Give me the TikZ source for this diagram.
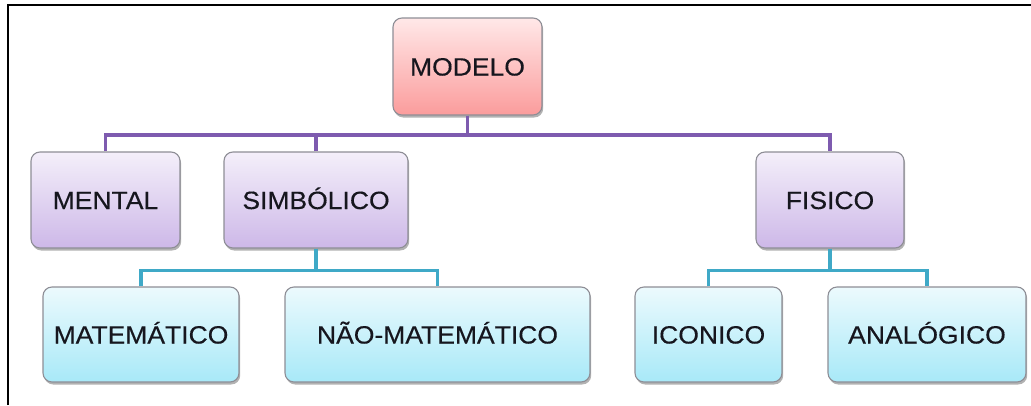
\documentclass[tikz,border=0pt]{standalone}
\usepackage{fontspec}
\setmainfont{Liberation Sans}[FakeStretch=1.06, FakeBold=0.35]
\usetikzlibrary{shadows}

\definecolor{pinktop}{HTML}{FFE8E8}
\definecolor{pinkbot}{HTML}{FB9C9C}
\definecolor{lilactop}{HTML}{F4EFFA}
\definecolor{lilacbot}{HTML}{CDB8E8}
\definecolor{cyantop}{HTML}{ECFAFD}
\definecolor{cyanbot}{HTML}{A8E9F8}
\definecolor{boxedge}{HTML}{8E8E96}
\definecolor{purpleline}{HTML}{7E5BAF}
\definecolor{cyanline}{HTML}{3FA9C7}
\definecolor{labeltext}{HTML}{16161E}

\begin{document}
\begin{tikzpicture}[x=1pt,y=-1pt,
  basebox/.style={draw=boxedge, line width=1.1pt, rounded corners=9pt,
    inner sep=0pt, text=labeltext, text height=18pt, text depth=0pt,
    font=\fontsize{25}{30}\selectfont,
    drop shadow={shadow xshift=1.2pt, shadow yshift=-2.5pt, opacity=0.3, fill=black}},
  rootbox/.style={basebox, top color=pinktop, bottom color=pinkbot},
  midbox/.style={basebox, top color=lilactop, bottom color=lilacbot},
  leafbox/.style={basebox, top color=cyantop, bottom color=cyanbot},
  upperlink/.style={draw=purpleline, line width=3.8pt},
  lowerlink/.style={draw=cyanline, line width=3.8pt}]

  % canvas and the frame along the top and left edges
  \useasboundingbox (0,0) rectangle (1031,405);
  \fill[white] (0,0) rectangle (1031,405);
  \draw[black, line width=2pt] (7.5,405) -- (7.5,4.5) -- (1031,4.5);

  % boxes
  \node[rootbox, minimum width=149pt, minimum height=97pt] (modelo) at (467.5,66.5) {MODELO};

  \node[midbox, minimum width=149pt, minimum height=96pt] (mental) at (105.5,200) {MENTAL};
  \node[midbox, minimum width=184pt, minimum height=96pt] (simbolico) at (316,200) {SIMBÓLICO};
  \node[midbox, minimum width=148pt, minimum height=96pt] (fisico) at (830,200) {FISICO};

  \node[leafbox, minimum width=196pt, minimum height=95pt] (matematico) at (141,334.5) {MATEMÁTICO};
  \node[leafbox, minimum width=305pt, minimum height=95pt] (naomatematico) at (437.5,334.5) {NÃO-MATEMÁTICO};
  \node[leafbox, minimum width=147pt, minimum height=95pt] (iconico) at (708.5,334.5) {ICONICO};
  \node[leafbox, minimum width=198pt, minimum height=95pt] (analogico) at (927,334.5) {ANALÓGICO};

  % bus levels of the connectors
  \coordinate (topbus) at (0,135);
  \coordinate (lowbus) at (0,270.5);

  % MODELO to its three kinds
  \draw[upperlink] (mental.north) -- (mental.north |- topbus) -- (fisico.north |- topbus) -- (fisico.north);
  \draw[upperlink] (modelo.south) -- (modelo.south |- topbus);
  \draw[upperlink] (simbolico.north) -- (simbolico.north |- topbus);

  % SIMBÓLICO to its two kinds
  \draw[lowerlink] (matematico.north) -- (matematico.north |- lowbus) -- (naomatematico.north |- lowbus) -- (naomatematico.north);
  \draw[lowerlink] (simbolico.south) -- (simbolico.south |- lowbus);

  % FISICO to its two kinds
  \draw[lowerlink] (iconico.north) -- (iconico.north |- lowbus) -- (analogico.north |- lowbus) -- (analogico.north);
  \draw[lowerlink] (fisico.south) -- (fisico.south |- lowbus);
\end{tikzpicture}
\end{document}
